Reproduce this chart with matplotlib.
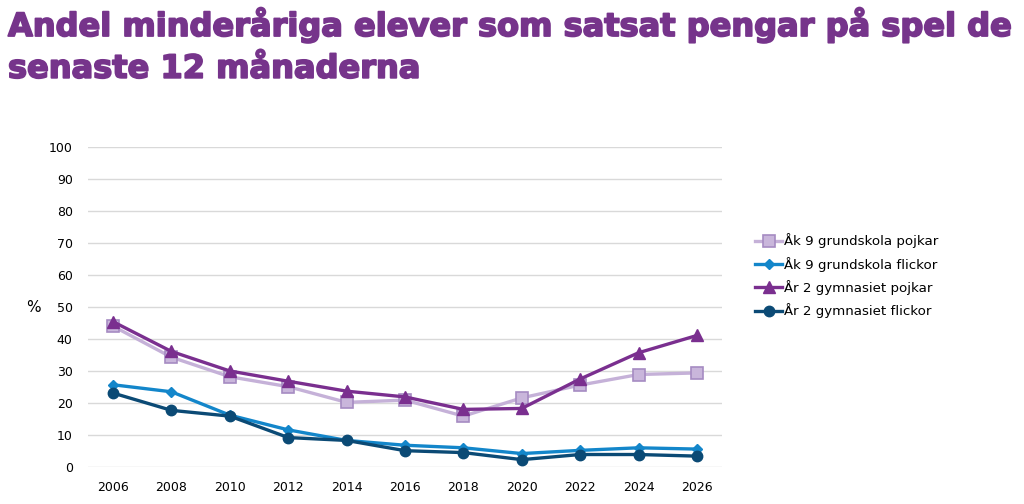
import matplotlib
matplotlib.use("Agg")
import matplotlib.pyplot as plt
import matplotlib.patheffects as pe

years = [2006, 2008, 2010, 2012, 2014, 2016, 2018, 2020, 2022, 2024, 2026]
ak9_pojkar = [44.0, 34.3, 28.2, 25.1, 20.2, 20.9, 15.9, 21.6, 25.6, 28.9, 29.4]
ak9_flickor = [25.7, 23.5, 16.2, 11.6, 8.3, 6.8, 6.0, 4.2, 5.2, 6.0, 5.6]
gy2_pojkar = [45.4, 36.1, 30.0, 26.8, 23.7, 21.9, 18.0, 18.3, 27.5, 35.7, 41.1]
gy2_flickor = [23.1, 17.7, 15.9, 9.2, 8.3, 5.1, 4.5, 2.3, 3.9, 3.9, 3.4]
labels = ["Åk 9 grundskola pojkar", "Åk 9 grundskola flickor",
          "År 2 gymnasiet pojkar", "År 2 gymnasiet flickor"]
yticks = list(range(0, 101, 10))
title = "Andel minderåriga elever som satsat pengar på spel de\nsenaste 12 månaderna"

fig = plt.figure(figsize=(10.24, 5.04), dpi=100)
ax = fig.add_axes([88/1024, 1-467/504, (722-88)/1024, (467-147)/504])

series = [
    (ak9_pojkar, dict(color="#C5B1D8", marker="s", markersize=9, markerfacecolor="#C9B6DB",
                      markeredgecolor="#A68BC2", markeredgewidth=1.2)),
    (ak9_flickor, dict(color="#1386CA", marker="D", markersize=5.5)),
    (gy2_pojkar, dict(color="#7A2F8F", marker="^", markersize=8.5)),
    (gy2_flickor, dict(color="#0B4A75", marker="o", markersize=7.5)),
]
for (vals, kw), lab in zip(series, labels):
    ax.plot(years, vals, linewidth=2.4, label=lab, zorder=3, **kw)

ax.set_ylim(0, 100)
ax.set_xlim(2006 - 0.86, 2026 + 0.86)
ax.set_yticks(yticks)
ax.set_xticks(years)
ax.grid(axis="y", color="#D9D9D9", linewidth=1.0, zorder=0)
for s in ax.spines.values():
    s.set_visible(False)
ax.tick_params(axis="both", length=0, labelsize=9, colors="#000000")
ax.tick_params(axis="y", pad=11)
ax.tick_params(axis="x", pad=10)
fig.text(33/1024, 1-308/504, "%", fontsize=11, ha="center", va="center")

leg = fig.legend(loc="upper left", bbox_to_anchor=(750/1024, 1-228/504), frameon=False,
                 fontsize=9.6, handlelength=2.0, handletextpad=0.15, labelspacing=0.63,
                 borderaxespad=0)
for h in leg.legend_handles:
    h.set_linewidth(2.4)

t = fig.text(8/1024, 1-7/504, title, fontsize=26, fontweight="bold", family="DejaVu Sans",
             color="#76348B", ha="left", va="top", linespacing=1.45,
             path_effects=[pe.withStroke(linewidth=1.3, foreground="#76348B")])
fig.canvas.draw()
bb = t.get_window_extent()
t.set_fontsize(26 * 1005 / bb.width)

fig.savefig("out.png", dpi=100)
